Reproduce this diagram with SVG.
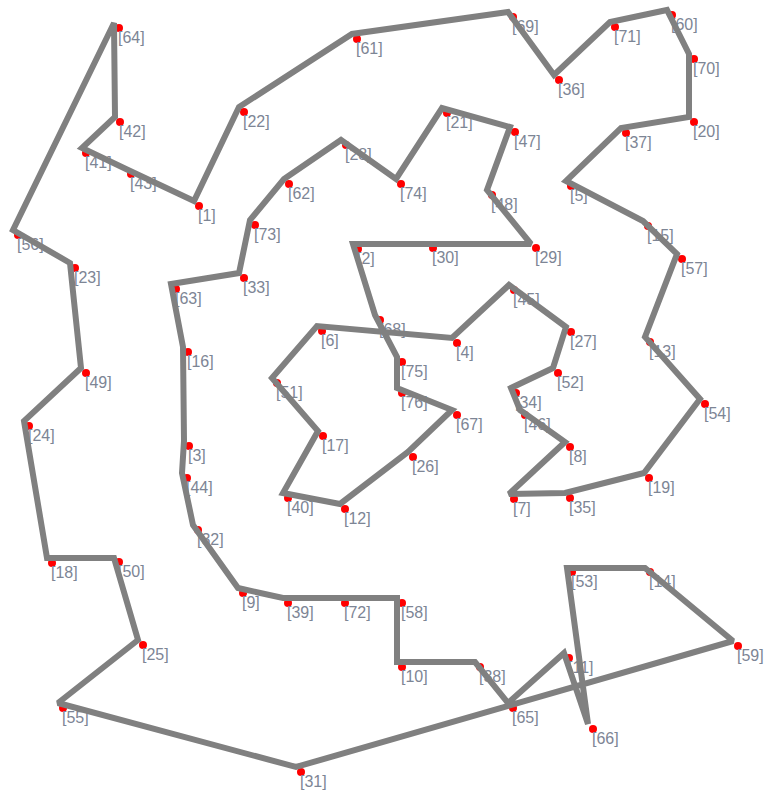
<svg xmlns="http://www.w3.org/2000/svg" width="764" height="794" viewBox="0 0 764 794">
<style>
.n circle{fill:#ff0000;stroke:none}
.n text{font-family:"Liberation Sans",Arial,sans-serif;font-size:16px;fill:#7d8595}
.edge{fill:none;stroke:#808080;stroke-width:6;stroke-linejoin:miter;stroke-miterlimit:2}
</style>
<rect width="764" height="794" fill="#ffffff"/>
<g id="nodes">
<g id="n2" class="n"><circle cx="358" cy="249" r="4"/><text x="357" y="264">[2]</text></g>
<g id="n68" class="n"><circle cx="380" cy="320" r="4"/><text x="379" y="335">[68]</text></g>
<g id="n75" class="n"><circle cx="402" cy="362" r="4"/><text x="401" y="377">[75]</text></g>
<g id="n76" class="n"><circle cx="402" cy="393" r="4"/><text x="401" y="408">[76]</text></g>
<g id="n67" class="n"><circle cx="457" cy="415" r="4"/><text x="456" y="430">[67]</text></g>
<g id="n26" class="n"><circle cx="413" cy="457" r="4"/><text x="412" y="472">[26]</text></g>
<g id="n12" class="n"><circle cx="345" cy="509" r="4"/><text x="344" y="524">[12]</text></g>
<g id="n40" class="n"><circle cx="288" cy="498" r="4"/><text x="287" y="513">[40]</text></g>
<g id="n17" class="n"><circle cx="323" cy="436" r="4"/><text x="322" y="451">[17]</text></g>
<g id="n51" class="n"><circle cx="277" cy="383" r="4"/><text x="276" y="398">[51]</text></g>
<g id="n6" class="n"><circle cx="322" cy="331" r="4"/><text x="321" y="346">[6]</text></g>
<g id="n4" class="n"><circle cx="457" cy="343" r="4"/><text x="456" y="358">[4]</text></g>
<g id="n45" class="n"><circle cx="514" cy="290" r="4"/><text x="513" y="305">[45]</text></g>
<g id="n27" class="n"><circle cx="571" cy="332" r="4"/><text x="570" y="347">[27]</text></g>
<g id="n52" class="n"><circle cx="558" cy="373" r="4"/><text x="557" y="388">[52]</text></g>
<g id="n34" class="n"><circle cx="516" cy="393" r="4"/><text x="515" y="408">[34]</text></g>
<g id="n46" class="n"><circle cx="525" cy="415" r="4"/><text x="524" y="430">[46]</text></g>
<g id="n8" class="n"><circle cx="570" cy="447" r="4"/><text x="569" y="462">[8]</text></g>
<g id="n7" class="n"><circle cx="514" cy="499" r="4"/><text x="513" y="514">[7]</text></g>
<g id="n35" class="n"><circle cx="570" cy="498" r="4"/><text x="569" y="513">[35]</text></g>
<g id="n19" class="n"><circle cx="649" cy="478" r="4"/><text x="648" y="493">[19]</text></g>
<g id="n54" class="n"><circle cx="705" cy="404" r="4"/><text x="704" y="419">[54]</text></g>
<g id="n13" class="n"><circle cx="650" cy="342" r="4"/><text x="649" y="357">[13]</text></g>
<g id="n57" class="n"><circle cx="682" cy="259" r="4"/><text x="681" y="274">[57]</text></g>
<g id="n15" class="n"><circle cx="648" cy="226" r="4"/><text x="647" y="241">[15]</text></g>
<g id="n5" class="n"><circle cx="571" cy="186" r="4"/><text x="570" y="201">[5]</text></g>
<g id="n37" class="n"><circle cx="626" cy="133" r="4"/><text x="625" y="148">[37]</text></g>
<g id="n20" class="n"><circle cx="694" cy="122" r="4"/><text x="693" y="137">[20]</text></g>
<g id="n70" class="n"><circle cx="694" cy="59" r="4"/><text x="693" y="74">[70]</text></g>
<g id="n60" class="n"><circle cx="672" cy="15" r="4"/><text x="671" y="30">[60]</text></g>
<g id="n71" class="n"><circle cx="615" cy="27" r="4"/><text x="614" y="42">[71]</text></g>
<g id="n36" class="n"><circle cx="559" cy="80" r="4"/><text x="558" y="95">[36]</text></g>
<g id="n69" class="n"><circle cx="513" cy="17" r="4"/><text x="512" y="32">[69]</text></g>
<g id="n61" class="n"><circle cx="357" cy="39" r="4"/><text x="356" y="54">[61]</text></g>
<g id="n22" class="n"><circle cx="244" cy="112" r="4"/><text x="243" y="127">[22]</text></g>
<g id="n1" class="n"><circle cx="199" cy="206" r="4"/><text x="198" y="221">[1]</text></g>
<g id="n43" class="n"><circle cx="131" cy="174" r="4"/><text x="130" y="189">[43]</text></g>
<g id="n41" class="n"><circle cx="86" cy="153" r="4"/><text x="85" y="168">[41]</text></g>
<g id="n42" class="n"><circle cx="120" cy="122" r="4"/><text x="119" y="137">[42]</text></g>
<g id="n64" class="n"><circle cx="119" cy="28" r="4"/><text x="118" y="43">[64]</text></g>
<g id="n56" class="n"><circle cx="18" cy="235" r="4"/><text x="17" y="250">[56]</text></g>
<g id="n23" class="n"><circle cx="75" cy="268" r="4"/><text x="74" y="283">[23]</text></g>
<g id="n49" class="n"><circle cx="86" cy="373" r="4"/><text x="85" y="388">[49]</text></g>
<g id="n24" class="n"><circle cx="29" cy="426" r="4"/><text x="28" y="441">[24]</text></g>
<g id="n18" class="n"><circle cx="52" cy="563" r="4"/><text x="51" y="578">[18]</text></g>
<g id="n50" class="n"><circle cx="119" cy="562" r="4"/><text x="118" y="577">[50]</text></g>
<g id="n25" class="n"><circle cx="143" cy="645" r="4"/><text x="142" y="660">[25]</text></g>
<g id="n55" class="n"><circle cx="63" cy="708" r="4"/><text x="62" y="723">[55]</text></g>
<g id="n31" class="n"><circle cx="301" cy="772" r="4"/><text x="300" y="787">[31]</text></g>
<g id="n59" class="n"><circle cx="738" cy="646" r="4"/><text x="737" y="661">[59]</text></g>
<g id="n14" class="n"><circle cx="650" cy="572" r="4"/><text x="649" y="587">[14]</text></g>
<g id="n53" class="n"><circle cx="572" cy="572" r="4"/><text x="571" y="587">[53]</text></g>
<g id="n66" class="n"><circle cx="593" cy="729" r="4"/><text x="592" y="744">[66]</text></g>
<g id="n11" class="n"><circle cx="569" cy="658" r="4"/><text x="568" y="673">[11]</text></g>
<g id="n65" class="n"><circle cx="513" cy="708" r="4"/><text x="512" y="723">[65]</text></g>
<g id="n38" class="n"><circle cx="480" cy="667" r="4"/><text x="479" y="682">[38]</text></g>
<g id="n10" class="n"><circle cx="402" cy="667" r="4"/><text x="401" y="682">[10]</text></g>
<g id="n58" class="n"><circle cx="402" cy="603" r="4"/><text x="401" y="618">[58]</text></g>
<g id="n72" class="n"><circle cx="345" cy="603" r="4"/><text x="344" y="618">[72]</text></g>
<g id="n39" class="n"><circle cx="288" cy="603" r="4"/><text x="287" y="618">[39]</text></g>
<g id="n9" class="n"><circle cx="243" cy="593" r="4"/><text x="242" y="608">[9]</text></g>
<g id="n32" class="n"><circle cx="198" cy="530" r="4"/><text x="197" y="545">[32]</text></g>
<g id="n44" class="n"><circle cx="187" cy="478" r="4"/><text x="186" y="493">[44]</text></g>
<g id="n3" class="n"><circle cx="189" cy="446" r="4"/><text x="188" y="461">[3]</text></g>
<g id="n16" class="n"><circle cx="188" cy="352" r="4"/><text x="187" y="367">[16]</text></g>
<g id="n63" class="n"><circle cx="176" cy="289" r="4"/><text x="175" y="304">[63]</text></g>
<g id="n33" class="n"><circle cx="244" cy="278" r="4"/><text x="243" y="293">[33]</text></g>
<g id="n73" class="n"><circle cx="255" cy="225" r="4"/><text x="254" y="240">[73]</text></g>
<g id="n62" class="n"><circle cx="289" cy="184" r="4"/><text x="288" y="199">[62]</text></g>
<g id="n28" class="n"><circle cx="346" cy="145" r="4"/><text x="345" y="160">[28]</text></g>
<g id="n74" class="n"><circle cx="401" cy="184" r="4"/><text x="400" y="199">[74]</text></g>
<g id="n21" class="n"><circle cx="447" cy="113" r="4"/><text x="446" y="128">[21]</text></g>
<g id="n47" class="n"><circle cx="515" cy="132" r="4"/><text x="514" y="147">[47]</text></g>
<g id="n48" class="n"><circle cx="492" cy="195" r="4"/><text x="491" y="210">[48]</text></g>
<g id="n29" class="n"><circle cx="536" cy="248" r="4"/><text x="535" y="263">[29]</text></g>
<g id="n30" class="n"><circle cx="433" cy="248" r="4"/><text x="432" y="263">[30]</text></g>
</g>
<g id="connectors">
<polygon class="edge" points="353,244 375,315 397,357 397,388 452,410 408,452 340,504 283,493 318,431 272,378 317,326 452,338 509,285 566,327 553,368 511,388 520,410 565,442 509,494 565,493 644,473 700,399 645,337 677,254 643,221 566,181 621,128 689,117 689,54 667,10 610,22 554,75 508,12 352,34 239,107 194,201 126,169 82,148 115,117 114,23 13,230 70,263 81,368 24,421 47,558 114,558 138,640 58,703 296,767 733,641 645,568 567,568 588,724 564,653 508,703 475,662 397,662 397,598 340,598 283,598 238,588 193,525 182,473 184,441 183,347 171,284 239,273 250,220 284,179 341,140 396,179 442,108 510,127 487,190 531,244 428,244"/>
</g>
</svg>
